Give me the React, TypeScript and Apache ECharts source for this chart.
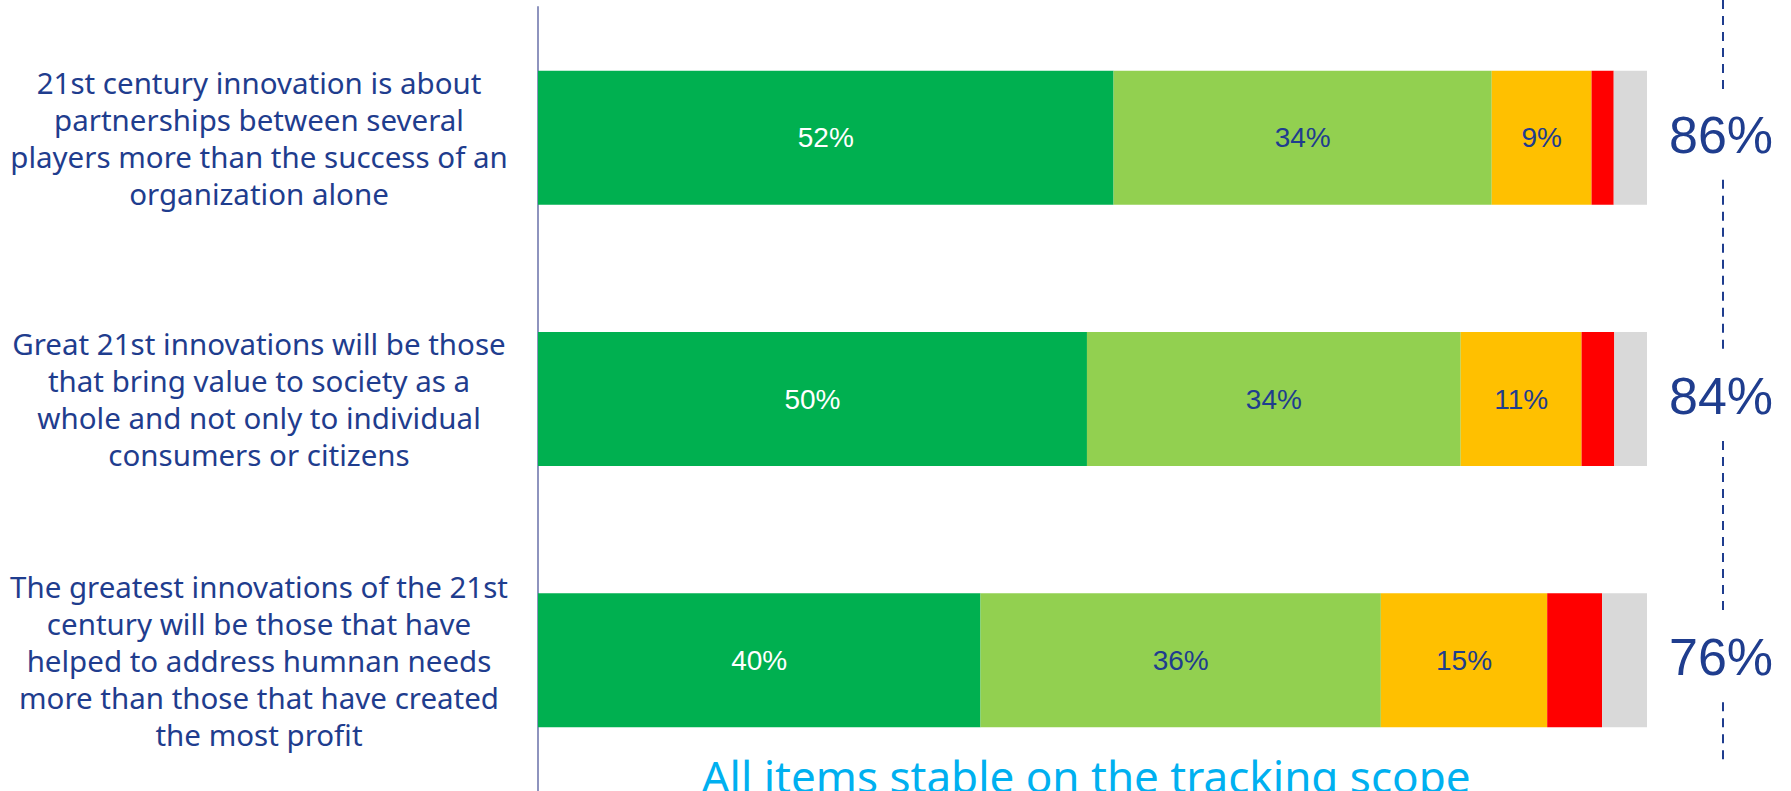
import React, { useEffect, useRef } from "react";
import * as echarts from "echarts";

const categories = [
  "21st century innovation is about\npartnerships between several\nplayers more than the success of an\norganization alone",
  "Great 21st innovations will be those\nthat bring value to society as a\nwhole and not only to individual\nconsumers or citizens",
  "The greatest innovations of the 21st\ncentury will be those that have\nhelped to address humnan needs\nmore than those that have created\nthe most profit",
];
const stronglyAgree = [51.9, 49.5, 39.9];
const somewhatAgree = [34.1, 33.7, 36.1];
const somewhatDisagree = [9.0, 10.9, 15.0];
const stronglyDisagree = [2.0, 2.95, 4.95];
const dontKnow = [3.0, 2.95, 4.05];
const totalAgree = [86, 84, 76];
const footnote = "All items stable on the tracking scope";

const DARK_BLUE = "#1F3D8E";

export default function App() {
  const ref = useRef<HTMLDivElement>(null);

  useEffect(() => {
    document.body.style.margin = "0";
    if (!ref.current) return;
    const chart = echarts.init(ref.current, null, { renderer: "svg" });

    const segLabel = (color: string, show = true) => ({
      show,
      position: "inside",
      color,
      fontFamily: "Liberation Sans",
      fontSize: 28,
      formatter: (p: any) => Math.round(p.value) + "%",
    });

    const mk = (name: string, data: number[], color: string, label: any) => ({
      name,
      type: "bar",
      stack: "total",
      data,
      barWidth: 134,
      itemStyle: { color },
      label,
      emphasis: { disabled: true },
    });

    chart.setOption({
      animation: false,
      grid: { left: 538, top: 7, width: 1109, height: 786 },
      xAxis: { type: "value", min: 0, max: 100, show: false },
      yAxis: {
        type: "category",
        inverse: true,
        data: categories,
        axisTick: { show: false },
        axisLine: { show: true, lineStyle: { color: "#8E94BE", width: 2 } },
        axisLabel: {
          align: "center",
          margin: 279,
          fontFamily: "Noto Sans",
          fontSize: 29.5,
          lineHeight: 37,
          color: DARK_BLUE,
        },
      },
      series: [
        mk("Strongly agree", stronglyAgree, "#00B050", segLabel("#FFFFFF")),
        mk("Somewhat agree", somewhatAgree, "#92D050", segLabel(DARK_BLUE)),
        mk("Somewhat disagree", somewhatDisagree, "#FFC000", segLabel(DARK_BLUE)),
        mk("Strongly disagree", stronglyDisagree, "#FF0000", { show: false }),
        mk("Don't know", dontKnow, "#D9D9D9", {
          show: true,
          position: "right",
          distance: 22,
          offset: [0, -3],
          color: DARK_BLUE,
          fontFamily: "Liberation Sans",
          fontSize: 52,
          formatter: (p: any) => totalAgree[p.dataIndex] + "%",
        }),
      ],
    });

    // dashed separator around the totals
    const xLine = (chart.convertToPixel({ xAxisIndex: 0 }, 100) as number) + 76;
    const centers = categories.map(
      (c) => chart.convertToPixel({ yAxisIndex: 0 }, c) as number
    );
    const segs: [number, number][] = [];
    let start = 0;
    centers.forEach((c) => {
      segs.push([start, c - 48]);
      start = c + 42;
    });
    segs.push([start, 762]);
    const lineStyle = { stroke: DARK_BLUE, lineWidth: 2, lineDash: [9, 7] };

    chart.setOption({
      graphic: [
        ...segs.map(([y1, y2]) => ({
          type: "line",
          shape: { x1: xLine, y1, x2: xLine, y2 },
          style: lineStyle,
          silent: true,
        })),
        {
          type: "text",
          x: 1086,
          y: 754,
          style: {
            text: footnote,
            fill: "#00B0F0",
            font: "44px 'Noto Sans'",
            textAlign: "center",
            textVerticalAlign: "top",
          },
          silent: true,
        },
      ],
    });

    return () => chart.dispose();
  }, []);

  return <div ref={ref} style={{ width: 1791, height: 791 }} />;
}
